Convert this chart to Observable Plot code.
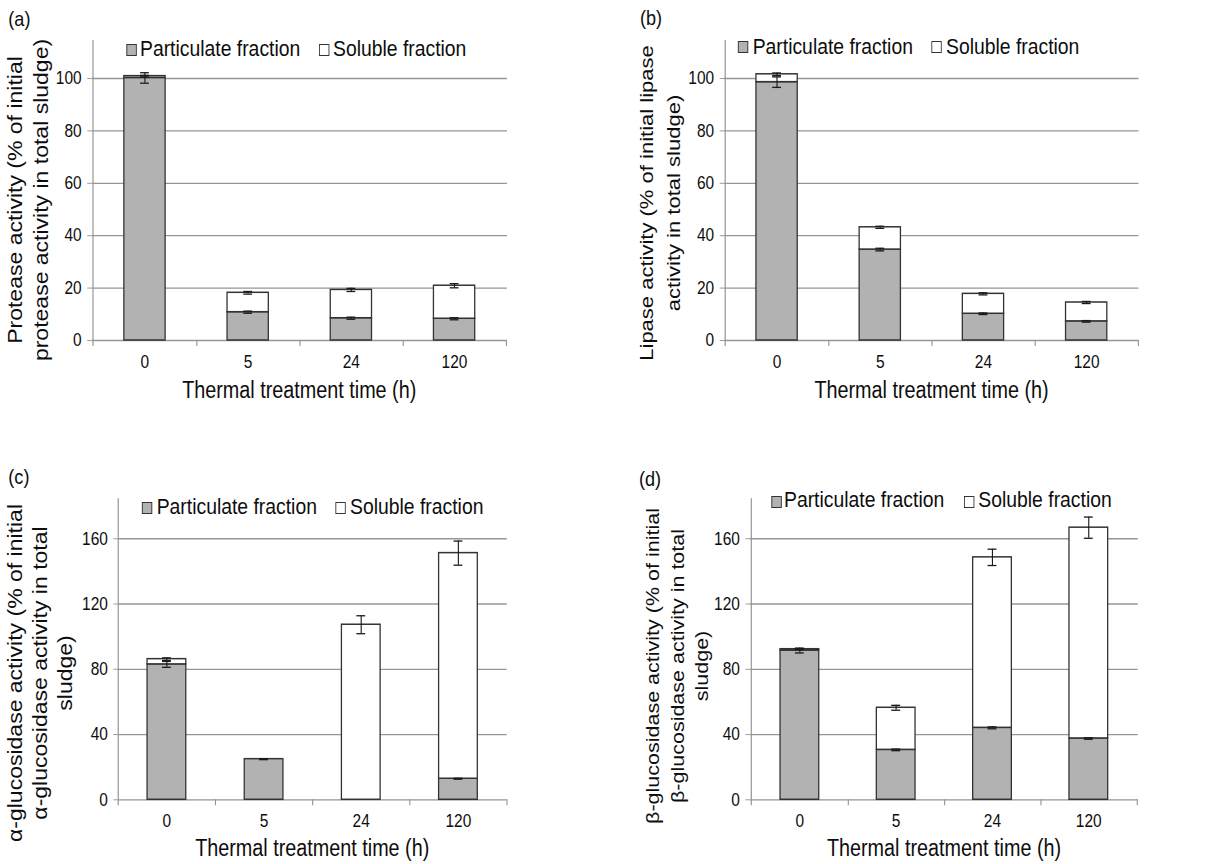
<!DOCTYPE html>
<html><head><meta charset="utf-8">
<script src="https://cdn.jsdelivr.net/npm/d3@7"></script>
<script src="https://cdn.jsdelivr.net/npm/@observablehq/plot@0.6"></script>
<style>
body{margin:0;background:#fff;}
#root{position:relative;width:1223px;height:864px;overflow:hidden;background:#fff;}
#stage{position:absolute;left:0;top:0;width:1422px;height:864px;transform-origin:0 0;font-family:"Liberation Sans",Arial,sans-serif;color:#0d0d0d;}
.t{position:absolute;white-space:pre;line-height:1;}
.sw{position:absolute;box-sizing:border-box;border:1px solid #333;}
.pan{position:absolute;}
</style></head><body><div id="root"><div id="stage"></div></div>
<script>
// ---------- data ----------
const categories = ["0", "5", "24", "120"];
const seriesNames = ["Particulate fraction", "Soluble fraction"];
const xTitle = "Thermal treatment time (h)";
const ticksAB = [0, 20, 40, 60, 80, 100];
const ticksCD = [0, 40, 80, 120, 160];

// (a) protease
const proteaseParticulate = [100.2, 10.8, 8.5, 8.3];
const proteaseSoluble = [0.7, 7.4, 10.8, 12.6];
const proteaseParticulateErr = [2.0, 0.4, 0.4, 0.4];
const proteaseTotalErr = [0.3, 0.5, 0.6, 0.8];

// (b) lipase
const lipaseParticulate = [98.6, 34.7, 10.2, 7.3];
const lipaseSoluble = [3.0, 8.5, 7.6, 7.2];
const lipaseParticulateErr = [2.0, 0.5, 0.3, 0.3];
const lipaseTotalErr = [0.5, 0.4, 0.4, 0.4];

// (c) alpha-glucosidase
const alphaParticulate = [83.0, 24.9, 0, 12.9];
const alphaSoluble = [3.2, 0, 107.3, 138.3];
const alphaParticulateErr = [1.8, 0.3, 0, 0.3];
const alphaTotalErr = [0.8, 0, 5.5, 7.4];

// (d) beta-glucosidase
const betaParticulate = [91.5, 30.6, 44.1, 37.6];
const betaSoluble = [0.8, 25.8, 104.5, 129.2];
const betaParticulateErr = [1.5, 0.5, 0.6, 0.5];
const betaTotalErr = [0.3, 1.5, 5.0, 6.5];

const panelLabels = ["(a)", "(b)", "(c)", "(d)"];
const yTitles = [
  "Protease activity (% of initial\nprotease activity in total sludge)",
  "Lipase activity (% of initial lipase\nactivity in total sludge)",
  "\u03b1-glucosidase activity (% of initial\n\u03b1-glucosidase activity in total\nsludge)",
  "\u03b2-glucosidase activity (% of initial\n\u03b2-glucosidase activity in total\nsludge)"
];

// ---------- layout (design units; the stage is squeezed horizontally) ----------
const SQUEEZE = 0.86;
const FONT = '"Liberation Sans", Arial, sans-serif';
const GRAY = "#b2b2b2";
const TICKFONT = 18;
const panels = [
  {left:0, top:0, w:709.3, h:430, ml:106.4, mr:119.8, mt:40, mb:90, yTop:114.5, ticks:ticksAB,
   part:proteaseParticulate, sol:proteaseSoluble, partErr:proteaseParticulateErr, totErr:proteaseTotalErr,
   label:{x:9.7, b:25.6}, yt:{cx:33, cy:200, fs:23, lh:31}, xtB:398,
   leg:{sw:[146.5,371], tx:[162.8,387.2], b:57.5, c:50}},
  {left:709.3, top:0, w:712.8, h:430, ml:132.9, mr:98, mt:40, mb:90, yTop:114.5, ticks:ticksAB,
   part:lipaseParticulate, sol:lipaseSoluble, partErr:lipaseParticulateErr, totErr:lipaseTotalErr,
   label:{x:744.2, b:24.5}, yt:{cx:767.7, cy:203, fs:22, lh:30.6}, xtB:398,
   leg:{sw:[858.1,1083.4], tx:[875.2,1100], b:55, c:47}},
  {left:0, top:430, w:709.3, h:434, ml:136.9, mr:120.1, mt:68.3, mb:64.7, yTop:184.5, ticks:ticksCD,
   part:alphaParticulate, sol:alphaSoluble, partErr:alphaParticulateErr, totErr:alphaTotalErr,
   label:{x:9.7, b:484}, yt:{cx:46.5, cy:673, fs:23, lh:29}, xtB:856,
   leg:{sw:[164.8,389.5], tx:[182.2,407], b:515, c:508}},
  {left:709.3, top:430, w:712.8, h:434, ml:162.8, mr:98.8, mt:68.3, mb:64.7, yTop:184.5, ticks:ticksCD,
   part:betaParticulate, sol:betaSoluble, partErr:betaParticulateErr, totErr:betaTotalErr,
   label:{x:743, b:485.6}, yt:{cx:787.8, cy:666, fs:21.5, lh:28.1}, xtB:856,
   leg:{sw:[896.5,1120.9], tx:[911.6,1137.6], b:508.3, c:501.7}}
];

const stage = document.getElementById("stage");
stage.style.transform = "scaleX(" + SQUEEZE + ")";

function addText(str, x, baseline, fs, center) {
  const d = document.createElement("div");
  d.className = "t";
  d.textContent = str;
  d.style.fontSize = fs + "px";
  d.style.left = x + "px";
  d.style.top = (baseline - 0.8465 * fs) + "px";
  if (center) d.style.transform = "translateX(-50%)";
  stage.appendChild(d);
  return d;
}

function buildPanel(p, idx) {
  const step = (p.w - p.ml - p.mr) / categories.length;
  const rows = [];
  const errs = [];
  categories.forEach((c, i) => {
    if (p.part[i] > 0) rows.push({cat: c, series: seriesNames[0], y1: 0, y2: p.part[i]});
    if (p.sol[i] > 0) rows.push({cat: c, series: seriesNames[1], y1: p.part[i], y2: p.part[i] + p.sol[i]});
    if (p.partErr[i] > 0 && p.part[i] > 0) errs.push({cat: c, v: p.part[i], e: p.partErr[i]});
    if (p.totErr[i] > 0 && p.sol[i] > 0) errs.push({cat: c, v: p.part[i] + p.sol[i], e: p.totErr[i]});
  });
  const capInset = (step * 0.4 - 10.5) / 2;
  const errStyle = {stroke: "#1a1a1a", strokeWidth: 1.3};
  const chart = Plot.plot({
    width: p.w, height: p.h,
    marginLeft: p.ml, marginRight: p.mr, marginTop: p.mt, marginBottom: p.mb,
    style: {fontFamily: FONT, fontSize: TICKFONT + "px", color: "#0d0d0d", background: "transparent", maxWidth: "none"},
    x: {type: "band", domain: categories, paddingInner: 0.6, paddingOuter: 0.3},
    y: {domain: [0, p.yTop]},
    color: {domain: seriesNames, range: [GRAY, "#ffffff"]},
    marks: [
      Plot.ruleY(p.ticks.filter(v => v > 0), {stroke: "#969696", strokeWidth: 1.3}),
      Plot.ruleY([0], {stroke: "#969696", strokeWidth: 1.3}),
      Plot.ruleX(categories, {x: d => d, dx: step / 2, y1: 0, y2: 0, insetBottom: -6, stroke: "#969696", strokeWidth: 1.3}),
      Plot.ruleX([categories[0]], {x: d => d, dx: -step / 2, y1: p.yTop, y2: 0, insetBottom: -6, stroke: "#969696", strokeWidth: 1.4}),
      Plot.axisY({ticks: p.ticks, tickSize: 5, tickPadding: 7, stroke: "#969696", fill: "#0d0d0d", fontSize: TICKFONT, label: null}),
      Plot.axisX({tickSize: 0, tickPadding: 14.5, fill: "#0d0d0d", fontSize: TICKFONT, label: null}),
      Plot.barY(rows, {x: "cat", y1: "y1", y2: "y2", fill: "series", stroke: "#333", strokeWidth: 1.5}),
      Plot.ruleX(errs, {x: "cat", y1: d => d.v - d.e, y2: d => d.v + d.e, ...errStyle}),
      Plot.tickY(errs, {x: "cat", y: d => d.v - d.e, insetLeft: capInset, insetRight: capInset, ...errStyle}),
      Plot.tickY(errs, {x: "cat", y: d => d.v + d.e, insetLeft: capInset, insetRight: capInset, ...errStyle})
    ]
  });
  const holder = document.createElement("div");
  holder.className = "pan";
  holder.style.left = p.left + "px";
  holder.style.top = p.top + "px";
  holder.appendChild(chart);
  stage.appendChild(holder);

  // panel label
  addText(panelLabels[idx], p.label.x, p.label.b, 21, false);
  // x title, centred under the plot frame
  const plotCenter = p.left + (p.ml + (p.w - p.mr)) / 2;
  addText(xTitle, plotCenter, p.xtB, 23, true);
  // y title
  const yt = document.createElement("div");
  yt.className = "t";
  yt.textContent = yTitles[idx];
  yt.style.fontSize = p.yt.fs + "px";
  yt.style.lineHeight = p.yt.lh + "px";
  yt.style.textAlign = "center";
  yt.style.left = p.yt.cx + "px";
  yt.style.top = p.yt.cy + "px";
  yt.style.transform = "translate(-50%,-50%) rotate(-90deg)";
  stage.appendChild(yt);
  // legend
  [GRAY, "#ffffff"].forEach((col, k) => {
    const s = document.createElement("div");
    s.className = "sw";
    s.style.left = p.leg.sw[k] + "px";
    s.style.top = (p.leg.c - 6) + "px";
    s.style.width = "12px";
    s.style.height = "12px";
    s.style.background = col;
    stage.appendChild(s);
    addText(seriesNames[k], p.leg.tx[k], p.leg.b, 22.5, false);
  });
}

panels.forEach(buildPanel);
</script></body></html>
